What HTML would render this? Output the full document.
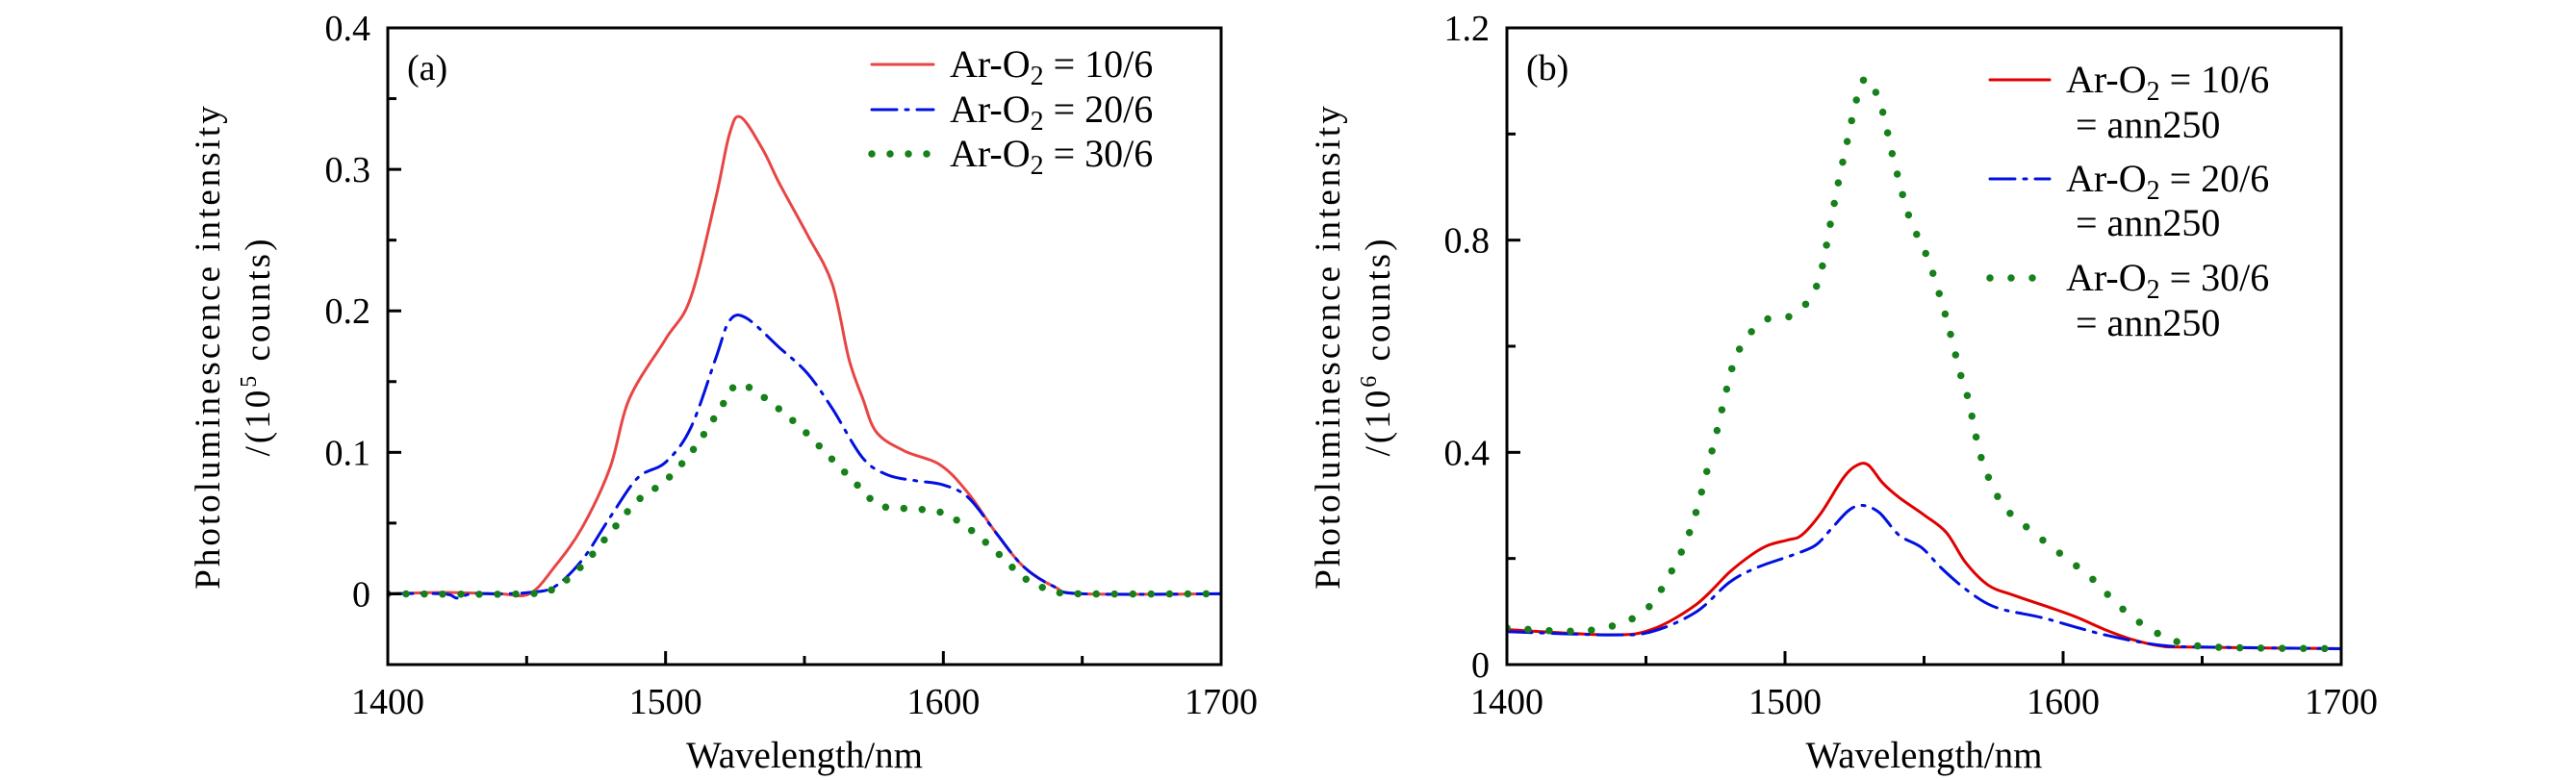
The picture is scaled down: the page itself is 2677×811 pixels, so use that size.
<!DOCTYPE html>
<html><head><meta charset="utf-8"><style>
body{margin:0;background:#fff}
svg{display:block;font-family:"Liberation Serif","DejaVu Serif",serif}
svg text, svg tspan{font-family:"Liberation Serif","DejaVu Serif",serif;fill:#000}
</style></head><body>
<svg id="c" width="2677" height="811" viewBox="0 0 2677 811" font-family="Liberation Serif, DejaVu Serif, serif" xmlns="http://www.w3.org/2000/svg"></svg>
<script>
const xTicks=[1400,1500,1600,1700];
const yTicksA=[0,0.1,0.2,0.3,0.4];
const yTickLabelsA=["0","0.1","0.2","0.3","0.4"];
const yTicksB=[0,0.4,0.8,1.2];
const yTickLabelsB=["0","0.4","0.8","1.2"];
const aRedX=[1400,1420,1440,1451,1460,1470,1480,1487,1500,1509,1518,1523,1527,1535,1541,1551,1560,1566,1571,1576,1586,1599,1609,1619,1629,1640,1650,1700];
const aRedY=[0,0.001,0,0,0.019,0.047,0.089,0.138,0.18,0.209,0.279,0.325,0.337,0.314,0.29,0.254,0.219,0.166,0.138,0.114,0.101,0.091,0.071,0.043,0.019,0.005,0,0];
const aBlueX=[1400,1420,1425,1430,1440,1451,1460,1470,1480,1490,1500,1509,1518,1523,1529,1541,1551,1560,1571,1580,1590,1600,1609,1619,1629,1640,1650,1700];
const aBlueY=[0,0,-0.003,0,0,0.001,0.005,0.024,0.054,0.082,0.093,0.117,0.166,0.193,0.195,0.174,0.156,0.131,0.096,0.084,0.08,0.077,0.068,0.043,0.019,0.005,0,0];
const aGreenX=[1400,1450,1460,1470,1480,1490,1500,1510,1520,1525,1530,1540,1550,1560,1570,1575,1580,1590,1600,1610,1620,1630,1640,1650,1700];
const aGreenY=[0,0,0.004,0.02,0.043,0.066,0.08,0.102,0.132,0.147,0.146,0.132,0.115,0.095,0.075,0.065,0.061,0.06,0.057,0.045,0.028,0.01,0.002,0,0];
const bRedX=[1400,1437,1452,1468,1480,1488,1494,1501,1506,1513,1521,1526,1530,1535,1541,1550,1558,1565,1573,1582,1595,1605,1615,1625,1635,1645,1700];
const bRedY=[0.066,0.056,0.066,0.113,0.174,0.207,0.225,0.235,0.244,0.286,0.352,0.376,0.376,0.343,0.315,0.282,0.249,0.192,0.15,0.131,0.108,0.089,0.066,0.047,0.035,0.033,0.03];
const bBlueX=[1400,1437,1452,1468,1480,1490,1503,1511,1517,1523,1528,1534,1541,1549,1556,1564,1572,1579,1592,1605,1615,1628,1638,1650,1700];
const bBlueY=[0.062,0.056,0.062,0.099,0.155,0.183,0.207,0.225,0.258,0.291,0.3,0.286,0.244,0.221,0.183,0.146,0.117,0.103,0.089,0.07,0.056,0.042,0.035,0.033,0.03];
const bGreenX=[1400,1420,1432,1442,1450,1457,1466,1474,1481,1485,1492,1502,1509,1513,1517,1521,1528,1534,1539,1544,1548,1552,1558,1563,1566,1570,1574,1579,1586,1595,1602,1610,1617,1625,1635,1645,1660,1700];
const bGreenY=[0.069,0.063,0.066,0.08,0.103,0.155,0.254,0.408,0.56,0.605,0.648,0.657,0.69,0.742,0.85,0.953,1.1,1.06,0.953,0.854,0.803,0.756,0.653,0.549,0.498,0.4,0.343,0.296,0.263,0.225,0.197,0.164,0.127,0.089,0.056,0.038,0.032,0.03];

const NS="http://www.w3.org/2000/svg";
const svg=document.getElementById('c');
const FF='Liberation Serif, DejaVu Serif, serif';
function el(tag,attrs,parent){const e=document.createElementNS(NS,tag);for(const k in attrs)e.setAttribute(k,attrs[k]);if(tag==='text')e.setAttribute('font-family',FF);(parent||svg).appendChild(e);return e;}
function smooth(pts){let d="M"+pts[0][0].toFixed(1)+","+pts[0][1].toFixed(1);
for(let i=0;i<pts.length-1;i++){const p0=pts[i-1]||pts[i],p1=pts[i],p2=pts[i+1],p3=pts[i+2]||p2;
const c1=[p1[0]+(p2[0]-p0[0])/6,p1[1]+(p2[1]-p0[1])/6],c2=[p2[0]-(p3[0]-p1[0])/6,p2[1]-(p3[1]-p1[1])/6];
d+="C"+c1[0].toFixed(1)+","+c1[1].toFixed(1)+" "+c2[0].toFixed(1)+","+c2[1].toFixed(1)+" "+p2[0].toFixed(1)+","+p2[1].toFixed(1);}return d;}

function panel(cfg){
  const g=el('g',{});
  
  
  const L=cfg.L,R=cfg.R,T=29,B=691;
  const xs=v=>L+(v-1400)/300*(R-L);
  const ys=v=>B-(v-cfg.ymin)/(cfg.ymax-cfg.ymin)*(B-T);
  const clip=el('clipPath',{id:'clip'+cfg.id},g);el('rect',{x:L,y:T,width:R-L,height:B-T},clip);
  const series=[
    {x:cfg.rX,y:cfg.rY,stroke:cfg.red,w:cfg.rw,dash:null,name:'series-10-6'},
    {x:cfg.bX,y:cfg.bY,stroke:'#0010e0',w:3,dash:'26 9 3 9',name:'series-20-6'},
    {x:cfg.gX,y:cfg.gY,stroke:'#16801a',w:cfg.gw,dash:'0 '+cfg.gap,name:'series-30-6'}];
  series.forEach(s=>{const pts=s.x.map((v,i)=>[xs(v),ys(s.y[i])]);
    const p=el('path',{d:smooth(pts),fill:'none',stroke:s.stroke,'stroke-width':s.w,'stroke-linecap':'round','clip-path':'url(#clip'+cfg.id+')'},g);
    if(s.dash)p.setAttribute('stroke-dasharray',s.dash);
    
    });
  const frame=el('rect',{x:L,y:T,width:R-L,height:B-T,fill:'none',stroke:'#000','stroke-width':3},g);
  
  
  for(let v=1400;v<=1700;v+=50){const x=xs(v);const len=v%100===0?14:9;el('line',{x1:x,y1:B,x2:x,y2:B-len,stroke:'#000','stroke-width':3},g);}
  xTicks.forEach(v=>{const t=el('text',{x:xs(v),y:742,'font-size':38,'text-anchor':'middle'},g);t.textContent=v;
    
    });
  for(let v=cfg.ymin;v<=cfg.ymax+1e-9;v+=cfg.minor){const y=ys(v);const isMaj=cfg.yT.some(m=>Math.abs(m-v)<1e-6);el('line',{x1:L,y1:y,x2:L+(isMaj?14:9),y2:y,stroke:'#000','stroke-width':3},g);}
  cfg.yT.forEach((v,i)=>{const t=el('text',{x:L-18,y:ys(v)+13,'font-size':38,'text-anchor':'end'},g);t.textContent=cfg.yL[i];
    
    });
  const xt=el('text',{x:(L+R)/2,y:798,'font-size':39,'text-anchor':'middle'},g);xt.textContent='Wavelength/nm';
  
  
  const yt=el('text',{'font-size':37,'text-anchor':'middle',transform:'translate('+(cfg.yx)+',360) rotate(-90)','letter-spacing':'3'},g);
  const t1=el('tspan',{x:0,y:0},yt);t1.textContent='Photoluminescence intensity';
  const t2=el('tspan',{x:0,y:52},yt);t2.textContent='/(10';
  const t3=el('tspan',{'font-size':24,dy:-14},yt);t3.textContent=cfg.exp;
  const t4=el('tspan',{dy:14},yt);t4.textContent=' counts)';
  
  
  const lab=el('text',{x:L+20,y:83,'font-size':38},g);lab.textContent=cfg.label;
  
  
  cfg.leg.forEach((e,i)=>{const s=series[i];const lg=el('g',{},g);
    
    
    const ln=el('line',{x1:cfg.lx1,y1:e[0],x2:cfg.lx2,y2:e[0],stroke:s.stroke,'stroke-width':s.w,'stroke-linecap':'round'},lg);
    if(s.dash)ln.setAttribute('stroke-dasharray',s.dash);
    const tx=el('text',{x:cfg.tx,y:e[0]+13,'font-size':40},lg);
    const a=el('tspan',{},tx);a.textContent='Ar-O';
    const b=el('tspan',{'font-size':28,dy:8},tx);b.textContent='2';
    const c=el('tspan',{dy:-8},tx);c.textContent=' = '+e[1];
    if(e[2]){const t=el('text',{x:cfg.tx+10,y:e[2]+13,'font-size':40},lg);t.textContent='= ann250';}
  });
}
panel({id:'a',name:'panel-a',L:403,R:1269,ymin:-0.05,ymax:0.4,minor:0.05,yT:yTicksA,yL:yTickLabelsA,red:'#e84545',rw:3,gap:19,gw:7.5,
  rX:aRedX,rY:aRedY,bX:aBlueX,bY:aBlueY,gX:aGreenX,gY:aGreenY,yx:228,exp:'5',label:'(a)',
  lx1:906,lx2:970,tx:987,leg:[[67,'10/6'],[114,'20/6'],[160,'30/6']]});
panel({id:'b',name:'panel-b',L:1566,R:2433,ymin:0,ymax:1.2,minor:0.2,yT:yTicksB,yL:yTickLabelsB,red:'#e00000',rw:3,gap:22,gw:7.5,
  rX:bRedX,rY:bRedY,bX:bBlueX,bY:bBlueY,gX:bGreenX,gY:bGreenY,yx:1392,exp:'6',label:'(b)',
  lx1:2068,lx2:2130,tx:2147,leg:[[83,'10/6',130],[186,'20/6',232],[289,'30/6',336]]});
</script>
</body></html>
